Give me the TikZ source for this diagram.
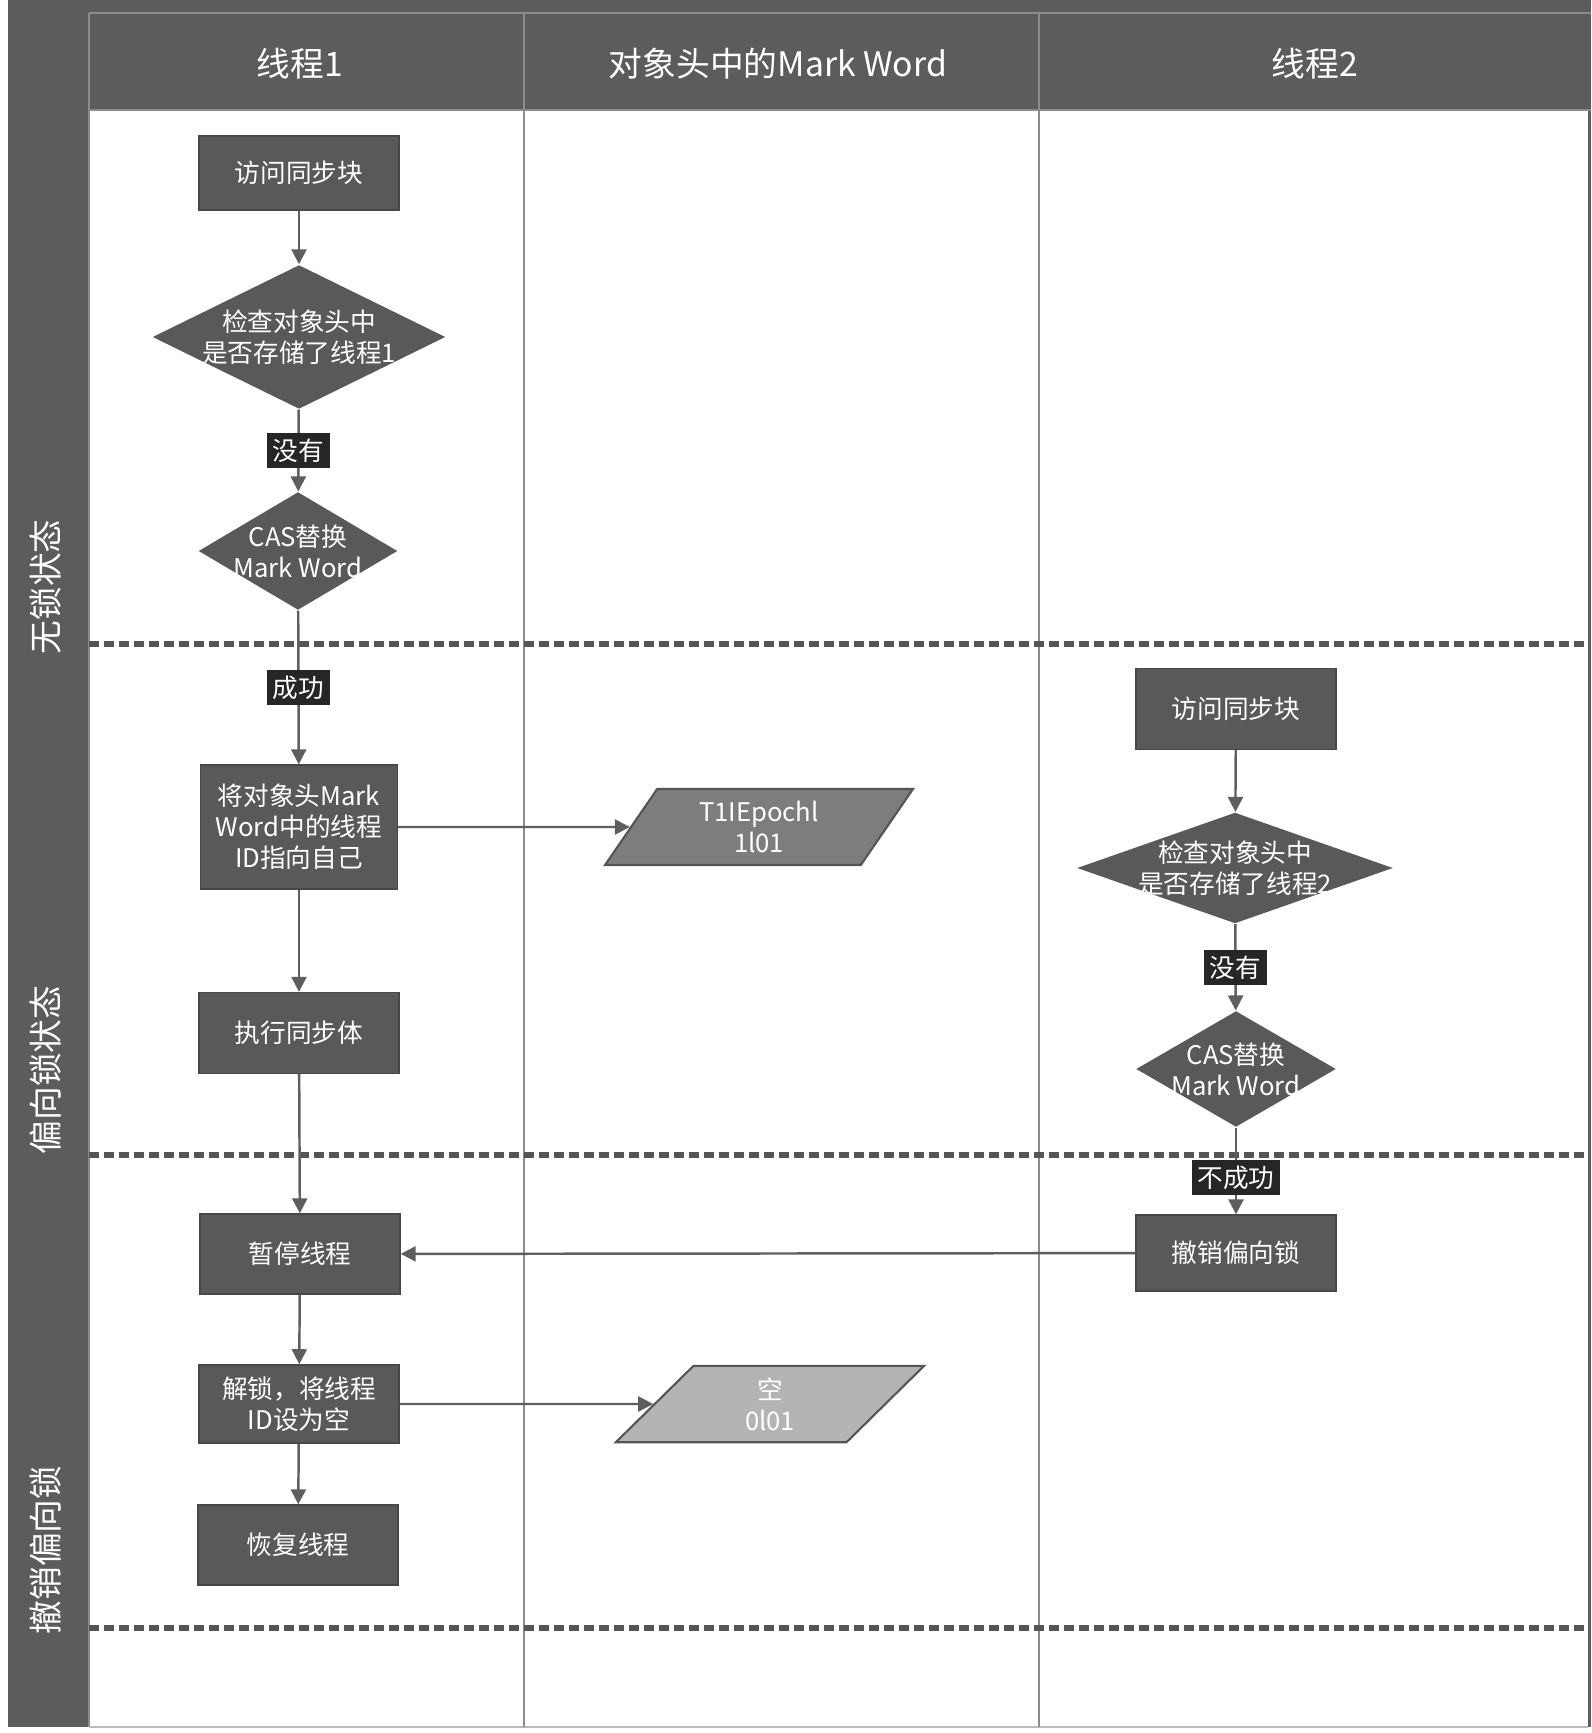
\documentclass[tikz,border=0pt]{standalone}
\usepackage{fontspec}
\setmainfont{Noto Sans CJK SC}
\usepackage{tikz}
\usetikzlibrary{shapes.geometric,arrows.meta,positioning}

\definecolor{bandgray}{HTML}{5C5C5C}
\definecolor{boxgray}{HTML}{595959}
\definecolor{tabgray}{HTML}{262626}
\definecolor{linegray}{HTML}{8C8C8C}
\definecolor{arrowgray}{HTML}{5E5E5E}
\definecolor{dashgray}{HTML}{555555}
\definecolor{pargray}{HTML}{7D7D7D}
\definecolor{parlight}{HTML}{B4B4B4}

\newcommand{\boxfont}{\fontsize{7.3}{8.8}\selectfont}
\newcommand{\headfont}{\fontsize{9.6}{11}\selectfont}

\begin{document}
\begin{tikzpicture}[
    box/.style={rectangle, draw=boxgray!80!black, fill=boxgray, text=white, minimum width=2cm, minimum height=0.8cm, align=center, font=\boxfont},
    dia/.style={diamond, fill=boxgray, inner sep=0pt},
    dtxt/.style={text=white, align=center, font=\boxfont, inner sep=0pt},
    para/.style={trapezium, trapezium left angle=64, trapezium right angle=116, trapezium stretches=true, draw=dashgray, line width=0.6pt, text=white, align=center, font=\boxfont, minimum width=3.09cm, minimum height=0.76cm},
    lbl/.style={rectangle, fill=tabgray, text=white, inner sep=1.6pt, font=\boxfont},
    hdr/.style={text=white, font=\headfont},
    lane/.style={text=white, font=\headfont, rotate=90, anchor=west, inner sep=0pt},
    arrow/.style={-{Triangle[width=1.5mm,length=1.5mm]}, draw=arrowgray, line width=0.7pt},
    lanesep/.style={draw=dashgray, dash pattern=on 0.95mm off 0.55mm, line width=1.7pt}
]
    \useasboundingbox (0,0) rectangle (15.91,-17.33);

    % frame, header and swimlanes
    \fill[bandgray] (0.08,0) rectangle (15.91,-17.27);
    \fill[white] (0.89,-1.10) rectangle (15.88,-17.27);
    \draw[linegray, line width=0.6pt] (0.89,-0.13) -- (15.91,-0.13);
    \draw[linegray, line width=0.6pt] (0.89,-1.10) -- (15.91,-1.10);
    \draw[linegray, line width=0.6pt] (0.89,-0.13) -- (0.89,-17.27);
    \draw[linegray!60, line width=0.6pt] (0.89,-17.27) -- (15.88,-17.27);
    \foreach \x in {5.24,10.39}
        \draw[linegray, line width=0.6pt] (\x,-0.13) -- (\x,-17.27);
    \foreach \y in {-6.44,-11.55,-16.28}
        \draw[lanesep] (0.89,\y) -- (15.88,\y);

    \node[hdr] (hd1) at (3.00,-0.64) {线程1};
    \node[hdr] (hd2) at (7.78,-0.64) {对象头中的Mark Word};
    \node[hdr] (hd3) at (13.15,-0.64) {线程2};

    \node[lane] (ln1) at (0.46,-6.55) {无锁状态};
    \node[lane] (ln2) at (0.46,-11.55) {偏向锁状态};
    \node[lane] (ln3) at (0.46,-16.35) {撤销偏向锁};

    % thread 1
    \node[box, minimum height=0.74cm] (acc1) at (2.99,-1.73) {访问同步块};
    \node[dia, minimum width=2.93cm, minimum height=1.44cm,
          label={[dtxt]center:检查对象头中\\是否存储了线程1}] (chk1) at (2.99,-3.37) {};
    \node[dia, minimum width=1.99cm, minimum height=1.18cm,
          label={[dtxt]center:CAS替换\\Mark Word}] (cas1) at (2.98,-5.51) {};
    \node[box, minimum width=1.97cm, minimum height=1.24cm] (set1) at (2.99,-8.27) {将对象头Mark\\Word中的线程\\ID指向自己};
    \node[box, minimum height=0.81cm] (run1) at (2.99,-10.33) {执行同步体};
    \node[box] (stop1) at (3.00,-12.54) {暂停线程};
    \node[box, minimum height=0.78cm] (unl1) at (2.99,-14.04) {解锁，将线程\\ID设为空};
    \node[box] (res1) at (2.98,-15.45) {恢复线程};

    % mark word
    \node[para, fill=pargray] (mw1) at (7.59,-8.27) {T1IEpochl\\1l01};
    \node[para, fill=parlight] (mw2) at (7.70,-14.04) {空\\0l01};

    % thread 2
    \node[box, minimum height=0.81cm] (acc2) at (12.36,-7.09) {访问同步块};
    \node[dia, minimum width=3.16cm, minimum height=1.11cm,
          label={[dtxt]center:检查对象头中\\是否存储了线程2}] (chk2) at (12.35,-8.68) {};
    \node[dia, minimum width=2.00cm, minimum height=1.16cm,
          label={[dtxt]center:CAS替换\\Mark Word}] (cas2) at (12.36,-10.69) {};
    \node[box, minimum height=0.76cm] (rev2) at (12.36,-12.53) {撤销偏向锁};

    \draw[arrow] (acc1) -- (chk1);
    \draw[arrow] (chk1) -- node[lbl] (no1) {没有} (cas1);
    \draw[arrow] (cas1) -- node[lbl] (ok1) {成功} (set1);
    \draw[arrow] (set1) -- (run1);
    \draw[arrow] (run1) -- (stop1);
    \draw[arrow] (stop1) -- (unl1);
    \draw[arrow] (unl1) -- (res1);
    \draw[arrow] (set1) -- (mw1);
    \draw[arrow] (unl1) -- (mw2);

    \draw[arrow] (acc2) -- (chk2);
    \draw[arrow] (chk2) -- node[lbl] (no2) {没有} (cas2);
    \draw[arrow] (cas2) -- node[lbl, pos=0.58] (fail2) {不成功} (rev2);
    \draw[arrow] (rev2) -- (stop1);
\end{tikzpicture}
\end{document}
